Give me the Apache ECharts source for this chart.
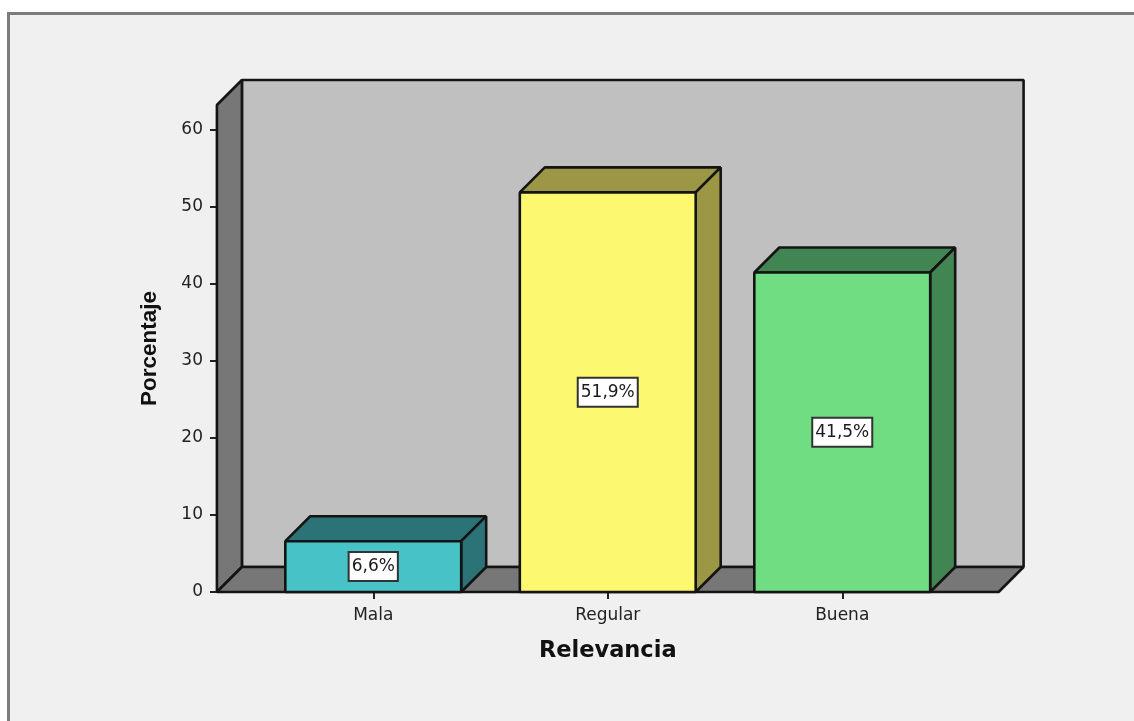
<!DOCTYPE html>
<html><head><meta charset="utf-8">
<script src="https://cdn.jsdelivr.net/npm/echarts@6/dist/echarts.min.js"></script>
<style>
html,body{margin:0;padding:0;background:#fff;width:1134px;height:721px;overflow:hidden}
#frame{position:absolute;left:7px;top:12px;right:0;bottom:0;background:#f0f0f0;border-left:3px solid #7c7c7c;border-top:3px solid #7c7c7c}
#c{position:absolute;left:0;top:0;width:1134px;height:721px}
</style></head><body>
<div id="frame"></div><div id="c"></div>
<script>
const categories = ['Mala', 'Regular', 'Buena'];
const values = [6.6, 51.9, 41.5];
const valueLabels = ['6,6%', '51,9%', '41,5%'];
const yTicks = [0, 10, 20, 30, 40, 50, 60];
const frontColors = ['#47c3c8', '#fcf870', '#70dd83'];
const sideColors = ['#2b7377', '#9b9745', '#408552'];
const axisTitleX = 'Relevancia';
const axisTitleY = 'Porcentaje';

const DEPTH = 25, LINE = '#141414', LW = 2.6;
const FONT = '"DejaVu Sans", sans-serif';
const poly = (points, fill) => ({
  type: 'polygon', shape: { points },
  style: { fill, stroke: LINE, lineWidth: LW, lineJoin: 'bevel' }
});

function renderWalls(params, api) {
  const g = params.coordSys, margin = api.size([1, 0])[0] / 6;
  const l = g.x - margin, r = g.x + g.width + margin, t = g.y, b = g.y + g.height;
  return { type: 'group', children: [
    poly([[l + DEPTH, t - DEPTH], [r + DEPTH, t - DEPTH], [r + DEPTH, b - DEPTH], [l + DEPTH, b - DEPTH]], '#c0c0c0'),
    poly([[l, t], [l + DEPTH, t - DEPTH], [l + DEPTH, b - DEPTH], [l, b]], '#777777'),
    poly([[l, b], [l + DEPTH, b - DEPTH], [r + DEPTH, b - DEPTH], [r, b]], '#777777')
  ]};
}

function renderBar(params, api) {
  const i = params.dataIndex, v = api.value(1);
  const c = api.coord([i, v]), base = api.coord([i, 0]), mid = api.coord([i, v / 2]);
  const w = api.size([1, 0])[0] * 0.75;
  const l = c[0] - w / 2, r = c[0] + w / 2, t = c[1], b = base[1];
  return { type: 'group', children: [
    poly([[l, t], [l + DEPTH, t - DEPTH], [r + DEPTH, t - DEPTH], [r, t]], sideColors[i]),
    poly([[r, t], [r + DEPTH, t - DEPTH], [r + DEPTH, b - DEPTH], [r, b]], sideColors[i]),
    poly([[l, t], [r, t], [r, b], [l, b]], frontColors[i]),
    { type: 'text', x: c[0], y: mid[1], style: {
        text: valueLabels[i], align: 'center', verticalAlign: 'middle',
        font: '17px ' + FONT, fill: '#1a1a1a',
        backgroundColor: '#fff', borderColor: '#333', borderWidth: 2,
        padding: [5, 2, 5, 2]
    } }
  ]};
}

const chart = echarts.init(document.getElementById('c'), null, { renderer: 'canvas' });
chart.setOption({
  animation: false,
  backgroundColor: 'transparent',
  grid: { left: 256, top: 105, width: 703.5, height: 487, containLabel: false },
  xAxis: {
    type: 'category', data: categories,
    axisLine: { show: false },
    axisTick: { show: true, alignWithLabel: true, length: 7, lineStyle: { color: '#222', width: 2 } },
    axisLabel: { color: '#222', fontSize: 17, fontFamily: FONT, margin: 15 },
    name: axisTitleX, nameLocation: 'middle', nameGap: 48,
    nameTextStyle: { color: '#111', fontFamily: FONT, fontWeight: 'bold', fontSize: 22.5 }
  },
  yAxis: {
    type: 'value', min: 0, max: 63.25, offset: 39,
    axisLine: { show: false },
    splitLine: { show: false },
    axisTick: { show: true, length: 7, customValues: yTicks, lineStyle: { color: '#222', width: 2 } },
    axisLabel: { color: '#222', fontFamily: FONT, fontSize: 17, margin: 14, padding: [3, 0, 0, 0], customValues: yTicks },
    name: axisTitleY, nameLocation: 'middle', nameGap: 56,
    nameTextStyle: { color: '#111', fontFamily: '"Liberation Sans", sans-serif', fontWeight: 'bold', fontSize: 22.5 }
  },
  series: [
    { type: 'custom', z: 1, clip: false, silent: true, renderItem: renderWalls, data: [[0, 0]] },
    { type: 'custom', z: 2, clip: false, silent: true, renderItem: renderBar,
      encode: { x: 0, y: 1 }, data: values.map((v, i) => [i, v]) }
  ]
});
</script>
</body></html>
